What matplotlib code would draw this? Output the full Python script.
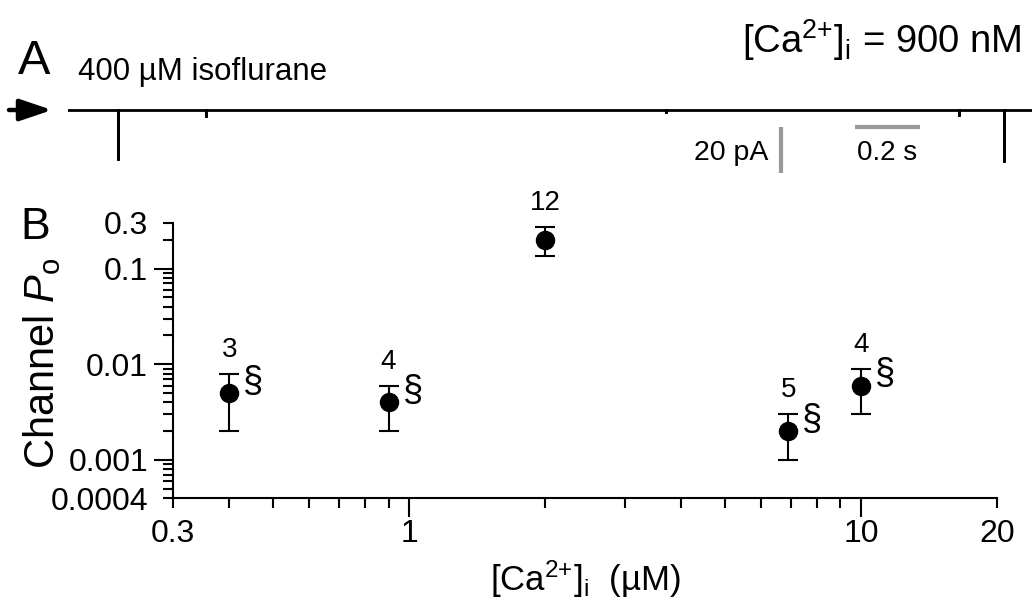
import numpy as np
import matplotlib
matplotlib.use('Agg')
import matplotlib.pyplot as plt
from matplotlib.ticker import FixedLocator, FixedFormatter, NullFormatter

plt.rcParams['font.family'] = ['Liberation Sans', 'DejaVu Sans']
plt.rcParams['mathtext.fontset'] = 'custom'
plt.rcParams['mathtext.rm'] = 'Liberation Sans'
plt.rcParams['mathtext.it'] = 'Liberation Sans:italic'
plt.rcParams['mathtext.bf'] = 'Liberation Sans:bold'

# ---- panel B data: Po vs [Ca2+]i with 400 uM isoflurane
ca = [0.4, 0.9, 2.0, 6.9, 10.0]          # uM
po = [0.005, 0.004, 0.2, 0.002, 0.006]
po_low = [0.002, 0.002, 0.135, 0.001, 0.003]
po_high = [0.008, 0.006, 0.27, 0.003, 0.009]
n_cells = ['3', '4', '12', '5', '4']
signif = [True, True, False, True, True]

yticks = [0.0004, 0.001, 0.01, 0.1, 0.3]
ylabels = ['0.0004', '0.001', '0.01', '0.1', '0.3']
xticks = [0.3, 1, 10, 20]
xlabels = ['0.3', '1', '10', '20']

# ---- panel A trace: single channel record, baseline with openings (pA, s)
trace_len = 2.966
spike_t = [0.154, 0.425, 1.84, 2.74, 2.88]
spike_amp = [-21.7, -3.0, -1.5, -2.5, -22.6]

fig = plt.figure(figsize=(10.32, 6.05), dpi=100)

##################### panel A
axA = fig.add_axes([68/1032, 1-180/605, 964/1032, 180/605])
axA.set_xlim(0, trace_len)
axA.set_ylim(-30.4, 47.8)
axA.axis('off')
tt, ii = [0], [0]
for t, a in zip(spike_t, spike_amp):
    tt += [t, t, t]
    ii += [0, a, 0]
tt.append(trace_len)
ii.append(0)
axA.plot(tt, ii, color='k', lw=2.0, solid_joinstyle='miter')
# scale bars
axA.plot([2.194, 2.194], [-7.4, -27.4], color='#999999', lw=3, solid_capstyle='butt')
axA.plot([2.42, 2.62], [-7.4, -7.4], color='#999999', lw=3, solid_capstyle='butt')
axA.text(2.155, -18.5, '20 pA', fontsize=20.5, ha='right', va='center')
axA.text(2.52, -18.5, '0.2 s', fontsize=20, ha='center', va='center')

fig.text(34/1032, 1-62/605, 'A', fontsize=35, ha='center', va='center')
fig.text(78/1032, 1-72/605, '400 µM isoflurane', fontsize=22.5, ha='left', va='center')
fig.text(1022/1032, 1-40/605, r'$[\mathrm{Ca}^{2{+}}]_\mathrm{i}$ = 900 nM',
         fontsize=27.5, ha='right', va='center')
axA.annotate('', xy=(52/1032, 1-110/605), xytext=(9/1032, 1-110/605),
             xycoords='figure fraction', textcoords='figure fraction',
             arrowprops=dict(arrowstyle='-|>,head_length=0.65,head_width=0.22', lw=3.2,
                             color='k', mutation_scale=30, shrinkA=0, shrinkB=0))

##################### panel B
ax = fig.add_axes([173/1032, 1-498/605, 824/1032, 275/605])
ax.set_xscale('log')
ax.set_yscale('log')
ax.set_xlim(0.3, 20)
ax.set_ylim(0.0004, 0.3)
for s in ['top', 'right']:
    ax.spines[s].set_visible(False)
for s in ['left', 'bottom']:
    ax.spines[s].set_linewidth(1.5)

yerr = [np.array(po) - np.array(po_low), np.array(po_high) - np.array(po)]
ax.errorbar(ca, po, yerr=yerr, fmt='o', color='k', ms=13, capsize=7, elinewidth=1.5,
            capthick=1.5, clip_on=False)
for x, hi, nn in zip(ca, po_high, n_cells):
    ax.annotate(nn, (x, hi), xytext=(0, 24), textcoords='offset pixels',
                ha='center', va='center', fontsize=20)
for x, y, s in zip(ca, po, signif):
    if s:
        ax.annotate('§', (x, y), xytext=(24, 11), textcoords='offset pixels',
                    ha='center', va='center', fontsize=26)

ax.yaxis.set_major_locator(FixedLocator(yticks))
ax.yaxis.set_major_formatter(FixedFormatter(ylabels))
ax.yaxis.set_minor_locator(FixedLocator([k*10.0**e for e in range(-4, 0) for k in range(2, 10)
                                         if 0.0004 < k*10.0**e < 0.3]))
ax.yaxis.set_minor_formatter(NullFormatter())
ax.xaxis.set_major_locator(FixedLocator(xticks))
ax.xaxis.set_major_formatter(FixedFormatter(xlabels))
ax.xaxis.set_minor_locator(FixedLocator([k*10.0**e for e in range(-1, 1) for k in range(2, 10)
                                         if 0.3 < k*10.0**e < 20]))
ax.xaxis.set_minor_formatter(NullFormatter())
ax.tick_params(which='major', direction='out', length=14, width=1.5, labelsize=23)
ax.tick_params(axis='y', which='major', pad=4)
ax.tick_params(axis='x', which='major', pad=1)
ax.tick_params(which='minor', direction='out', length=7, width=1.5)
for tk, v in zip(ax.yaxis.get_major_ticks(), yticks):
    if v in (0.0004, 0.3):
        tk.tick1line.set_markersize(7)
for tk, v in zip(ax.xaxis.get_major_ticks(), xticks):
    if v in (0.3, 20):
        tk.tick1line.set_markersize(7)

ax.set_ylabel(r'Channel $P_\mathrm{o}$', fontsize=30)
ax.yaxis.set_label_coords(-110/824, 0.49)
ax.set_xlabel(r'$[\mathrm{Ca}^{2{+}}]_\mathrm{i}$  (µM)', fontsize=25)
ax.xaxis.set_label_coords(0.5, -60/275)
fig.text(35/1032, 1-228/605, 'B', fontsize=32, ha='center', va='center')

fig.savefig('out.png', dpi=100)
